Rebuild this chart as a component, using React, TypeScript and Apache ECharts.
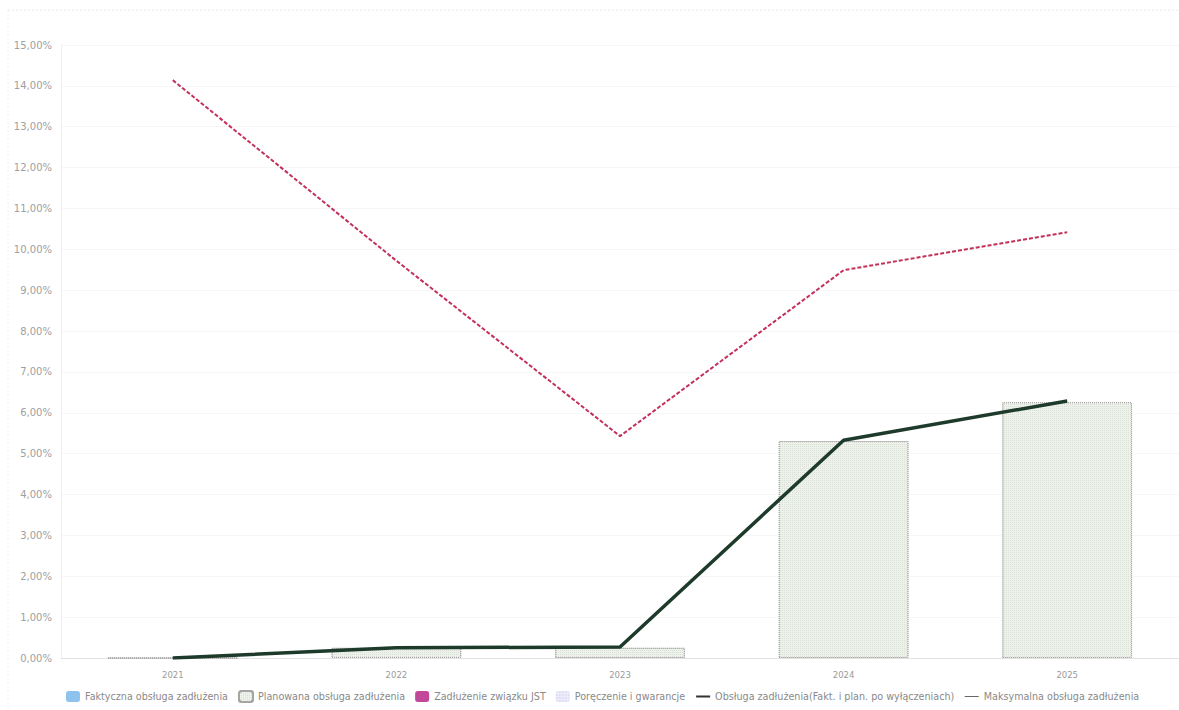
import React, { useEffect, useRef } from "react";
import * as echarts from "echarts";

const categories = ["2021", "2022", "2023", "2024", "2025"];
const faktyczna = [0, 0, 0, 0, 0];
const planowana = [0, 0.25, 0.25, 5.31, 6.26];
const zadluzenieJST = [0, 0, 0, 0, 0];
const poreczenia = [0, 0, 0, 0, 0];
const obslugaPoWyl = [0, 0.25, 0.27, 5.33, 6.29];
const maksymalna = [14.14, 9.72, 5.43, 9.49, 10.42];

const seriesNames = [
  "Faktyczna obsługa zadłużenia",
  "Planowana obsługa zadłużenia",
  "Zadłużenie związku JST",
  "Poręczenie i gwarancje",
  "Obsługa zadłużenia(Fakt. i plan. po wyłączeniach)",
  "Maksymalna obsługa zadłużenia",
];

const fmt = (v: number) => v.toFixed(2).replace(".", ",") + "%";

export default function App() {
  const ref = useRef<HTMLDivElement>(null);
  useEffect(() => {
    if (!ref.current) return;
    const chart = echarts.init(ref.current, null, { renderer: "svg" });
    const font = "DejaVu Sans";
    chart.setOption({
      animation: false,
      backgroundColor: "#ffffff",
      textStyle: { fontFamily: font },
      grid: { left: 61, right: 0, top: 45, bottom: 52 },
      graphic: [
        {
          type: "line",
          shape: { x1: 8, y1: 10, x2: 1179, y2: 10 },
          style: { stroke: "#e8e8e8", lineWidth: 1, lineDash: [2, 2] },
        },
        {
          type: "line",
          shape: { x1: 8, y1: 10, x2: 8, y2: 710 },
          style: { stroke: "#f0f0f0", lineWidth: 1, lineDash: [2, 2] },
        },
      ],
      legend: {
        top: 685,
        left: 61,
        itemWidth: 14,
        itemHeight: 11,
        itemGap: 10,
        textStyle: { fontSize: 9.6, color: "#8a8a8a", fontFamily: font },
        data: [
          { name: seriesNames[0] },
          { name: seriesNames[1] },
          { name: seriesNames[2] },
          { name: seriesNames[3] },
          {
            name: seriesNames[4],
            itemStyle: { opacity: 0 },
            lineStyle: { color: "#333", width: 2, type: "solid" },
          },
          {
            name: seriesNames[5],
            itemStyle: { opacity: 0 },
            lineStyle: { color: "#666", width: 1, type: "solid" },
          },
        ],
      },
      xAxis: {
        type: "category",
        data: categories,
        axisLine: { show: true, lineStyle: { color: "#e2e2e2" } },
        axisTick: { show: false },
        axisLabel: { fontSize: 8.5, color: "#9a9a9a", margin: 12 },
        splitLine: { show: false },
      },
      yAxis: {
        type: "value",
        min: 0,
        max: 15,
        interval: 1,
        axisLine: { show: true, lineStyle: { color: "#f0f0f0" } },
        axisTick: { show: false },
        axisLabel: { fontSize: 10, color: "#a0a0a0", margin: 9, formatter: fmt },
        splitLine: { show: true, lineStyle: { color: "#f6f6f6" } },
      },
      series: [
        {
          name: seriesNames[0],
          type: "bar",
          stack: "b",
          barWidth: "58%",
          data: faktyczna,
          itemStyle: { color: "#8ec3ef" },
        },
        {
          name: seriesNames[1],
          type: "bar",
          stack: "b",
          barWidth: "58%",
          data: planowana,
          itemStyle: {
            color: "#edf2eb",
            borderColor: "#a5a5a5",
            borderWidth: 1,
            borderType: "dotted",
            decal: {
              symbol: "rect",
              symbolSize: 1,
              color: "rgba(120,130,120,0.16)",
              dashArrayX: [1, 1],
              dashArrayY: [1, 1],
              rotation: 0,
            },
          },
        },
        {
          name: seriesNames[2],
          type: "bar",
          stack: "b",
          barWidth: "58%",
          data: zadluzenieJST,
          itemStyle: { color: "#c2489a" },
        },
        {
          name: seriesNames[3],
          type: "bar",
          stack: "b",
          barWidth: "58%",
          data: poreczenia,
          itemStyle: {
            color: "#eeeefb",
            decal: {
              symbol: "circle",
              symbolSize: 0.6,
              color: "rgba(140,140,210,0.5)",
              dashArrayX: [2, 1],
              dashArrayY: [2, 1],
            },
          },
        },
        {
          name: seriesNames[4],
          type: "line",
          data: obslugaPoWyl,
          symbol: "none",
          lineStyle: { color: "#1d3a2a", width: 3.5 },
          itemStyle: { color: "#1d3a2a" },
          z: 5,
        },
        {
          name: seriesNames[5],
          type: "line",
          data: maksymalna,
          symbol: "none",
          lineStyle: { color: "#c3305a", width: 2, type: [4, 2] },
          itemStyle: { color: "#c3305a" },
          z: 4,
        },
      ],
    });
    return () => chart.dispose();
  }, []);
  return (
    <div
      ref={ref}
      style={{ position: "fixed", left: 0, top: 0, width: 1179, height: 710 }}
    />
  );
}
